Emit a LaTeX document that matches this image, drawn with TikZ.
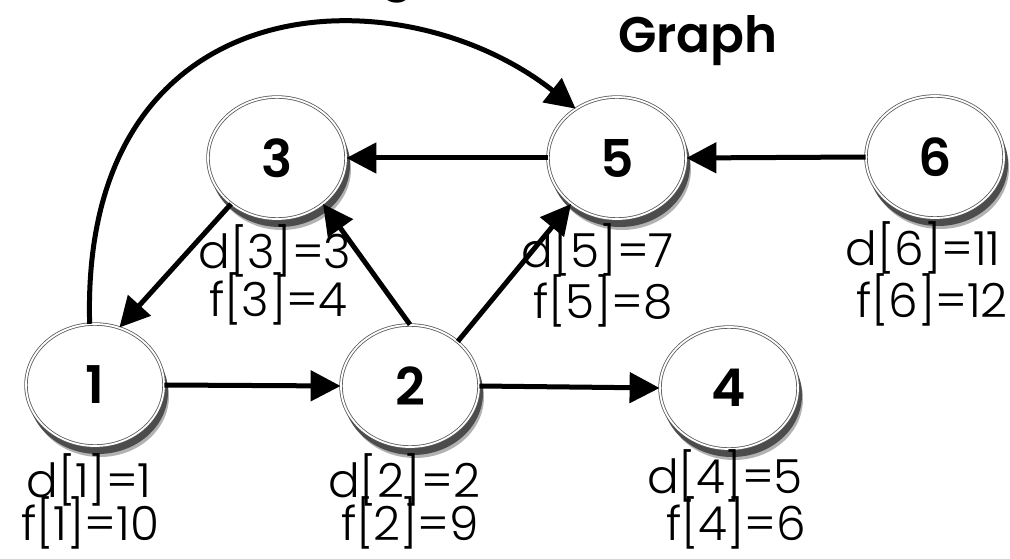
\documentclass[tikz,border=0pt]{standalone}
\usepackage{fontspec}
\setmainfont{Poppins}[UprightFont={* Light}, BoldFont={* SemiBold}]
\usetikzlibrary{arrows.meta,shapes.geometric}
\begin{document}
\begin{tikzpicture}[x=1pt,y=-1pt,
  vert/.style={ellipse, minimum width=138pt, minimum height=122pt, inner sep=0pt,
    fill=white, draw=black!65, line width=0.8pt, double=white, double distance=1.8pt,
    font=\fontsize{52}{52}\selectfont\bfseries},
  lab/.style={anchor=base, inner sep=0pt, font=\fontsize{47}{47}\selectfont},
  arc/.style={line width=5pt, -{Triangle[length=30pt,width=30pt]}},
]
\useasboundingbox (0,0) rectangle (1010,559);
\begin{scope}
\clip (0,0) rectangle (1010,559);
\node[anchor=base, inner sep=0pt, font=\fontsize{50}{50}\selectfont\bfseries] (tg) at (397,-10) {g};
\end{scope}
\node[anchor=base, inner sep=0pt, font=\fontsize{50}{50}\selectfont\bfseries] (title) at (698,53) {Graph};

% shadows
\fill[black!30] (100,396) ellipse [x radius=69pt, y radius=61pt];
\fill[black!70] (98,392) ellipse [x radius=70pt, y radius=62pt];
\fill[black!30] (415,397) ellipse [x radius=69pt, y radius=61pt];
\fill[black!70] (413,393) ellipse [x radius=70pt, y radius=62pt];
\fill[black!30] (282,169) ellipse [x radius=69pt, y radius=61pt];
\fill[black!70] (280,165) ellipse [x radius=70pt, y radius=62pt];
\fill[black!30] (734,399) ellipse [x radius=69pt, y radius=61pt];
\fill[black!70] (732,395) ellipse [x radius=70pt, y radius=62pt];
\fill[black!30] (622,169) ellipse [x radius=69pt, y radius=61pt];
\fill[black!70] (620,165) ellipse [x radius=70pt, y radius=62pt];
\fill[black!30] (940,168) ellipse [x radius=69pt, y radius=61pt];
\fill[black!70] (938,164) ellipse [x radius=70pt, y radius=62pt];

\node[vert] (n1) at (95,385) {1};
\node[vert] (n2) at (410,386) {2};
\node[vert] (n3) at (277,158) {3};
\node[vert] (n4) at (729,388) {4};
\node[vert] (n5) at (617,158) {5};
\node[vert] (n6) at (935,157) {6};

\node[lab] (d1) at (89,497) {d[1]=1};
\node[lab] (f1) at (90,540) {f[1]=10};
\node[lab] (d2) at (404,497) {d[2]=2};
\node[lab] (f2) at (410,540) {f[2]=9};
\node[lab] (d3) at (275,268) {d[3]=3};
\node[lab] (f3) at (278,316) {f[3]=4};
\node[lab] (d5) at (598,267) {d[5]=7};
\node[lab] (f5) at (603,318) {f[5]=8};
\node[lab] (d6) at (923,265) {d[6]=11};
\node[lab] (f6) at (932,317) {f[6]=12};
\node[lab] (d4) at (725,493) {d[4]=5};
\node[lab] (f4) at (736,540) {f[4]=6};

\draw[arc] (n1.east) -- (n2.west);
\draw[arc] (n2.east) -- (n4.west);
\draw[arc] (n5.west) -- (n3.east);
\draw[arc] (n6.west) -- (n5.east);
\draw[arc] (n2.north) -- (n3.-45);
\draw[arc] (n2.43) -- (n5.-135);
\draw[arc] (n3.-135) -- (n1.67);
\draw[arc] (n1.95) .. controls (80,-20) and (400,-30) .. (n5.130);
\end{tikzpicture}
\end{document}
